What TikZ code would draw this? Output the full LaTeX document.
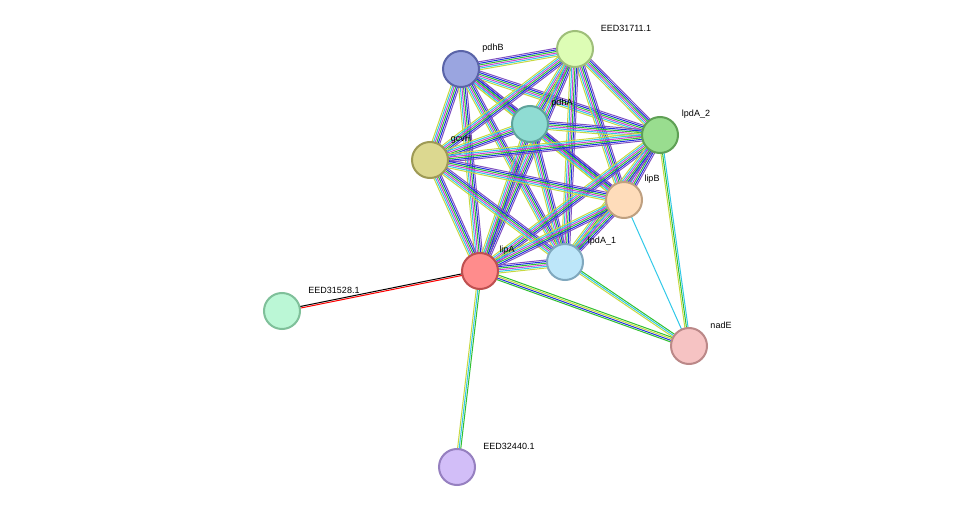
\documentclass[tikz,border=0pt]{standalone}
\usepackage{fontspec}
\setmainfont{Liberation Sans}
\usetikzlibrary{calc}
\definecolor{cTM}{HTML}{C8D840}
\definecolor{cDB}{HTML}{30C8E8}
\definecolor{cEX}{HTML}{D040D0}
\definecolor{cNB}{HTML}{30C030}
\definecolor{cCO}{HTML}{2030E0}
\definecolor{cHO}{HTML}{8050C0}
\tikzset{
 prot/.style={circle,minimum size=36pt,inner sep=0pt,line width=2pt},
 lab/.style={font=\fontsize{9}{10}\selectfont,inner sep=0pt},
 eline/.style={line width=1pt}
}
\newcommand{\medge}[3]{%
 \foreach \c [count=\i] in {#3}{\xdef\nn{\i}}%
 \foreach \c [count=\i] in {#3}{%
  \pgfmathsetmacro{\off}{(\i-(\nn+1)/2)*1.6}%
  \draw[eline,draw=\c] ($(#1)!\off pt!90:(#2)$) -- ($(#2)!\off pt!-90:(#1)$);
 }}
\begin{document}
\begin{tikzpicture}[x=1pt,y=-1pt]
\useasboundingbox (0,0) rectangle (975,513);
\coordinate (pdhB) at (461,69);
\coordinate (E11) at (575,49);
\coordinate (pdhA) at (530,124);
\coordinate (lpd2) at (660,135);
\coordinate (gcvH) at (430,160);
\coordinate (lipB) at (624,200);
\coordinate (lipA) at (480,271);
\coordinate (lpd1) at (565,262);
\coordinate (E28) at (282,311);
\coordinate (nadE) at (689,346);
\coordinate (E40) at (457,467);
% dense cluster
\foreach \a/\b in {pdhB/E11,pdhB/pdhA,pdhB/lpd2,pdhB/gcvH,pdhB/lipB,pdhB/lipA,pdhB/lpd1,
 E11/pdhA,E11/lpd2,E11/gcvH,E11/lipB,E11/lipA,E11/lpd1,
 pdhA/lpd2,pdhA/gcvH,pdhA/lipB,pdhA/lipA,pdhA/lpd1,
 lpd2/gcvH,lpd2/lipB,lpd2/lipA,lpd2/lpd1,
 gcvH/lipB,gcvH/lipA,gcvH/lpd1,
 lipB/lipA,lipB/lpd1,lipA/lpd1}{\medge{\a}{\b}{cTM,cDB,cEX,cNB,cCO,cHO}}
\medge{lipA}{E28}{black,red}
\medge{lipA}{E40}{cTM,cDB,cNB}
\medge{lipB}{nadE}{cDB}
\medge{lpd2}{nadE}{cTM,cNB,cDB}
\medge{lipA}{nadE}{cNB,cCO,cTM,cNB}
\medge{lpd1}{nadE}{cTM,cDB,cNB}
% nodes
\node[prot,fill={rgb,255:red,154;green,165;blue,224},draw={rgb,255:red,90;green,100;blue,168}] (n1) at (pdhB) {};
\node[prot,fill={rgb,255:red,221;green,253;blue,181},draw={rgb,255:red,159;green,191;blue,122}] (n2) at (E11) {};
\node[prot,fill={rgb,255:red,143;green,220;blue,211},draw={rgb,255:red,95;green,163;blue,155}] (n3) at (pdhA) {};
\node[prot,fill={rgb,255:red,153;green,221;blue,143},draw={rgb,255:red,95;green,160;blue,85}] (n4) at (lpd2) {};
\node[prot,fill={rgb,255:red,220;green,216;blue,144},draw={rgb,255:red,158;green,154;blue,85}] (n5) at (gcvH) {};
\node[prot,fill={rgb,255:red,254;green,220;blue,186},draw={rgb,255:red,191;green,160;blue,128}] (n6) at (lipB) {};
\node[prot,fill={rgb,255:red,255;green,140;blue,140},draw={rgb,255:red,191;green,80;blue,80}] (n7) at (lipA) {};
\node[prot,fill={rgb,255:red,189;green,230;blue,249},draw={rgb,255:red,128;green,168;blue,190}] (n8) at (lpd1) {};
\node[prot,fill={rgb,255:red,187;green,247;blue,214},draw={rgb,255:red,127;green,192;blue,154}] (n9) at (E28) {};
\node[prot,fill={rgb,255:red,246;green,195;blue,195},draw={rgb,255:red,187;green,136;blue,136}] (n10) at (nadE) {};
\node[prot,fill={rgb,255:red,210;green,190;blue,248},draw={rgb,255:red,150;green,128;blue,192}] (n11) at (E40) {};
% labels
\node[lab] (l1) at (493,48) {pdhB};
\node[lab] (l2) at (626,28) {EED31711.1};
\node[lab] (l3) at (562,103) {pdhA};
\node[lab] (l4) at (696,114) {lpdA\_2};
\node[lab] (l5) at (461,139) {gcvH};
\node[lab] (l6) at (652,179) {lipB};
\node[lab] (l7) at (507,250) {lipA};
\node[lab] (l8) at (602,241) {lpdA\_1};
\node[lab] (l9) at (334,290) {EED31528.1};
\node[lab] (l10) at (721,325) {nadE};
\node[lab] (l11) at (509,446) {EED32440.1};
\end{tikzpicture}
\end{document}
